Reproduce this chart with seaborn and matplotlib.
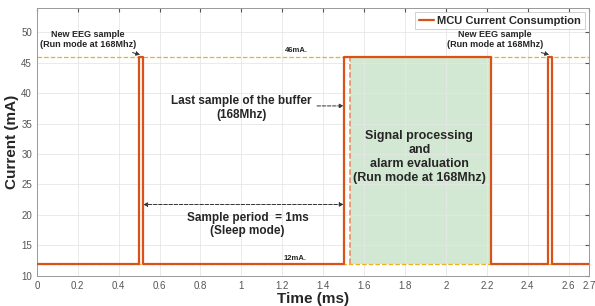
import numpy as np
import pandas as pd
import matplotlib
matplotlib.use("Agg")
import matplotlib.pyplot as plt
import seaborn as sns

# === Data ===
time_ms = [0, 0.5, 0.5, 0.52, 0.52, 1.5, 1.5, 2.22, 2.22, 2.5, 2.5, 2.52, 2.52, 2.7]
current_ma = [12, 12, 46, 46, 12, 12, 46, 46, 12, 12, 46, 46, 12, 12]
run_level = 46
sleep_level = 12
proc_start, proc_end = 1.53, 2.22
x_ticks = [0, 0.2, 0.4, 0.6, 0.8, 1, 1.2, 1.4, 1.6, 1.8, 2, 2.2, 2.4, 2.6, 2.7]
x_tick_labels = ["0", "0.2", "0.4", "0.6", "0.8", "1", "1.2", "1.4", "1.6", "1.8",
                 "2", "2.2", "2.4", "2.6", "2.7"]
y_ticks = [10, 15, 20, 25, 30, 35, 40, 45, 50]

ORANGE = "#D95319"
YELLOW = "#EDB120"

sns.set_style("white")
plt.rcParams["font.family"] = ["Liberation Sans", "DejaVu Sans"]

fig = plt.figure(figsize=(5.95, 3.06), dpi=100)
ax = fig.add_axes([0.062, 0.099, 0.928, 0.875])

# reference levels
ax.axhline(run_level, color=YELLOW, ls="--", lw=0.9, zorder=1)
ax.axhline(sleep_level, color=YELLOW, ls="--", lw=0.9, zorder=1)

# processing window
ax.fill_between([proc_start, proc_end], sleep_level, run_level,
                color="#D3E8D3", zorder=0.5, lw=0)
ax.plot([proc_start, proc_start], [sleep_level, run_level], color="#F0845A",
        ls="--", lw=1.1, zorder=2)

df = pd.DataFrame({"Time (ms)": time_ms, "Current (mA)": current_ma})
sns.lineplot(data=df, x="Time (ms)", y="Current (mA)", sort=False, estimator=None,
             color=ORANGE, lw=1.6, ax=ax, zorder=3, label="MCU Current Consumption")

ax.set_xlim(0, 2.7)
ax.set_ylim(10, 54)
ax.set_xticks(x_ticks)
ax.set_xticklabels(x_tick_labels)
ax.set_yticks(y_ticks)
ax.grid(True, color="#E6E6E6", lw=0.6)
ax.set_axisbelow(True)
ax.tick_params(direction="in", length=3, labelsize=7, colors="#555555",
               top=True, right=True, labelcolor="#555555")
for s in ax.spines.values():
    s.set_color("#999999")
    s.set_linewidth(0.7)

ax.set_xlabel("Time (ms)", fontsize=11, fontweight="bold", labelpad=1)
ax.set_ylabel("Current (mA)", fontsize=11, fontweight="bold", labelpad=2)

leg = ax.legend(loc="upper right", prop={"weight": "bold", "size": 8},
                frameon=True, fancybox=False, handlelength=1.4, handletextpad=0.3,
                borderpad=0.3, borderaxespad=0.4)
leg.get_frame().set_edgecolor("#BBBBBB")
leg.get_frame().set_linewidth(0.6)

small = dict(fontsize=6.5, fontweight="bold", ha="center", va="center")
mid = dict(fontsize=8.5, fontweight="bold", ha="center", va="center")
arrow_k = dict(arrowstyle="-|>", color="#333333", lw=0.7, ls="--",
               mutation_scale=6, shrinkA=0, shrinkB=0)

ax.annotate("New EEG sample\n(Run mode at 168Mhz)", xy=(0.505, 46.3),
            xytext=(0.25, 48.8), arrowprops=arrow_k, **small)
ax.annotate("New EEG sample\n(Run mode at 168Mhz)", xy=(2.505, 46.3),
            xytext=(2.24, 48.8), arrowprops=arrow_k, **small)

ax.text(1.27, 47.0, "46mA.", fontsize=5.5, fontweight="bold", ha="center", va="center")
ax.text(1.26, 12.9, "12mA.", fontsize=5.5, fontweight="bold", ha="center", va="center")

ax.annotate("", xy=(1.5, 37.9), xytext=(1.37, 37.9), arrowprops=arrow_k)
ax.text(1.0, 37.6, "Last sample of the buffer\n(168Mhz)", **mid)

ax.annotate("", xy=(0.52, 21.7), xytext=(1.5, 21.7),
            arrowprops=dict(arrowstyle="<|-|>", color="#333333", lw=0.7, ls="--",
                            mutation_scale=6, shrinkA=0, shrinkB=0))
ax.text(1.03, 18.4, "Sample period  = 1ms\n(Sleep mode)", **mid)

ax.text(1.87, 29.5, "Signal processing\nand\nalarm evaluation\n(Run mode at 168Mhz)",
        fontsize=9, fontweight="bold", ha="center", va="center", linespacing=1.25)

fig.savefig("out.png", dpi=100)
plt.close(fig)
